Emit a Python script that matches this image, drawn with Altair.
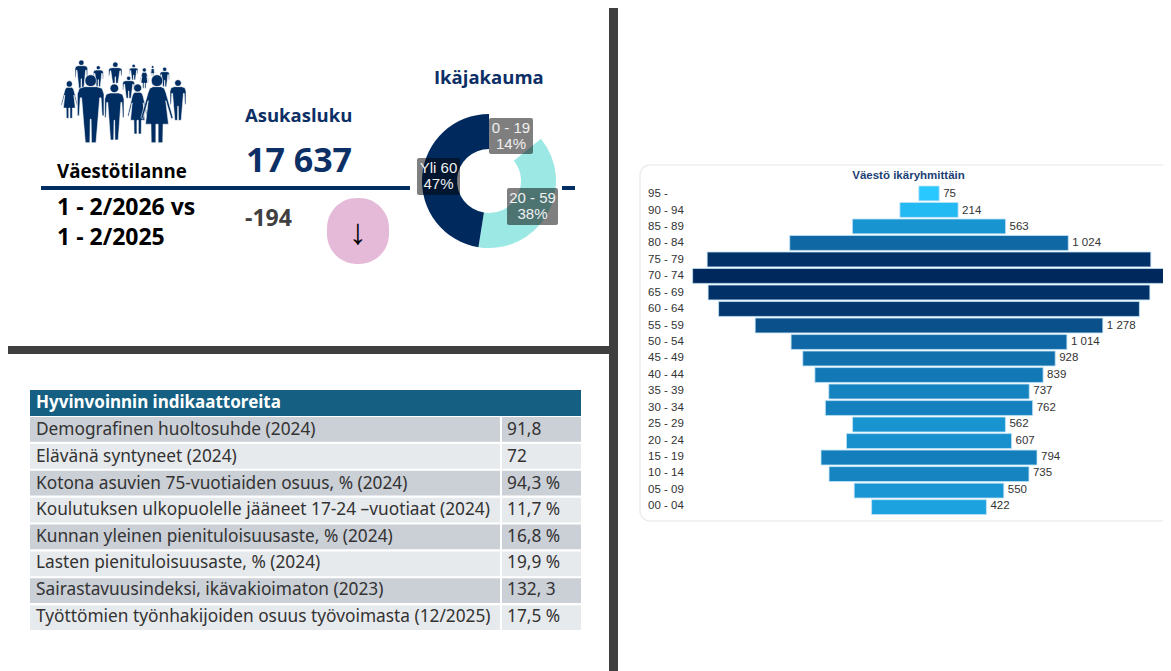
import altair as alt
import pandas as pd

ages = ["95 -", "90 - 94", "85 - 89", "80 - 84", "75 - 79", "70 - 74", "65 - 69", "60 - 64", "55 - 59", "50 - 54",
        "45 - 49", "40 - 44", "35 - 39", "30 - 34", "25 - 29", "20 - 24", "15 - 19", "10 - 14", "05 - 09", "00 - 04"]
population = [75, 214, 563, 1024, 1631, 1738, 1624, 1547, 1278, 1014, 928, 839, 737, 762, 562, 607, 794, 735, 550, 422]
value_labels = ["75", "214", "563", "1 024", "", "", "", "", "1 278", "1 014", "928", "839", "737", "762", "562", "607", "794", "735", "550", "422"]

donut_groups = ["0 - 19", "20 - 59", "Yli 60"]
donut_shares = [14, 38, 47]

indicators = ["Demografinen huoltosuhde (2024)", "Elävänä syntyneet (2024)",
              "Kotona asuvien 75-vuotiaiden osuus, % (2024)",
              "Koulutuksen ulkopuolelle jääneet 17-24  –vuotiaat (2024)",
              "Kunnan yleinen pienituloisuusaste, % (2024)", "Lasten pienituloisuusaste, % (2024)",
              "Sairastavuusindeksi, ikävakioimaton (2023)", "Työttömien työnhakijoiden osuus työvoimasta (12/2025)"]
indicator_values = ["91,8", "72", "94,3 %", "11,7 %", "16,8 %", "19,9 %", "132, 3", "17,5 %"]

NAVY = "#002d62"
OPEN = "Open Sans"
NOTO = "Noto Sans"
ARIAL = "Liberation Sans"


def X(p):
    return p - 8


def Y(p):
    return p - 8


def txt(s, x, y, size, color="#000000", weight="normal", font=OPEN, align="left"):
    return alt.Chart(pd.DataFrame({"t": [s]})).mark_text(
        fontSize=size, color=color, fontWeight=weight, font=font, align=align, baseline="middle"
    ).encode(x=alt.value(X(x)), y=alt.value(Y(y)), text="t:N")


def box(x0, x1, y0, y1, fill, **kw):
    return alt.Chart(pd.DataFrame({"a": [0]})).mark_rect(fill=fill, **kw).encode(
        x=alt.value(X(x0)), x2=alt.value(X(x1)), y=alt.value(Y(y0)), y2=alt.value(Y(y1)))


# ---- people pictogram: one path per figure, mapped to the symbol's unit box
ICX, ICY, ICR = 123.0, 100.0, 70.0


def mp(xz, yz):
    return ((xz / 3 + 50 - ICX) / ICR, (yz / 3 + 55 - ICY) / ICR)


def person(kind, cx, hy, hr, hw, bottom):
    top = hy + hr + 1
    h = bottom - top
    if kind == "m":
        half = [(0.45, 0), (0.85, 0.03), (1, 0.13), (1, 0.52), (0.86, 0.52), (0.78, 0.2), (0.68, 0.2),
                (0.56, 0.55), (0.4, 1), (0.06, 1), (0.03, 0.58)]
    else:
        half = [(0.25, 0), (0.45, 0.03), (0.55, 0.1), (1, 0.55), (0.9, 0.58), (0.55, 0.25), (0.72, 0.67),
                (0.38, 0.67), (0.36, 1), (0.07, 1), (0.07, 0.67)]
    pts = [(cx + hw * a, top + h * b) for a, b in half] + [(cx - hw * a, top + h * b) for a, b in reversed(half)]
    d = "M" + " L".join("%.4f,%.4f" % mp(*p) for p in pts) + " Z "
    hx, hyy = mp(cx, hy)
    r = hr / 3 / ICR
    d += "M%.4f,%.4f A%.4f,%.4f 0 1,0 %.4f,%.4f A%.4f,%.4f 0 1,0 %.4f,%.4f Z" % (
        hx - r, hyy, r, r, hx + r, hyy, r, r, hx - r, hyy)
    return d


figures = [("m", 94, 23, 8, 19, 100), ("m", 145, 38, 6, 15, 95), ("m", 196, 29, 8, 20, 85),
           ("m", 251, 33, 5, 13, 75), ("f", 283, 45, 6, 14, 100), ("f", 308, 36, 4, 8, 62),
           ("m", 344, 43, 6, 14, 95), ("m", 236, 70, 6, 18, 130), ("f", 58, 87, 9, 25, 190),
           ("m", 384, 84, 10, 24, 196), ("m", 193, 100, 13, 29, 255), ("m", 122, 77, 17, 40, 263),
           ("f", 263, 99, 12, 30, 237), ("f", 321, 77, 17, 48, 263)]
people_df = pd.DataFrame({"p": [person(*f) for f in figures]})
icon = alt.Chart(people_df).mark_point(filled=True, fill=NAVY, opacity=1, stroke="#ffffff", strokeWidth=0.6).encode(
    x=alt.value(X(ICX)), y=alt.value(Y(ICY)),
    shape=alt.Shape("p:N", scale=None, legend=None),
    size=alt.value((2 * ICR) ** 2))

# ---- frames
layers = [
    box(609, 618, 8, 680, "#3f3f3f"),
    box(8, 610, 346, 354, "#3f3f3f"),
    icon,
    txt("Väestötilanne", 57, 172, 18.7, "#000000", "bold"),
    txt("1 - 2/2026 vs", 57, 208, 23, "#000000", "bold"),
    txt("1 - 2/2025", 57, 238, 23, "#000000", "bold"),
    txt("Asukasluku", 245, 116, 18.5, "#0c2f66", "bold"),
    txt("17 637", 246, 161.5, 34, "#0c2f66", "bold"),
    txt("-194", 245, 219, 23, "#404040", "bold"),
    txt("Ikäjakauma", 434, 78, 18.5, "#0c2f66", "bold"),
    box(41, 410, 186, 190, NAVY),
    box(562, 575, 186, 190, NAVY),
    box(327, 389, 198, 264, "#e5b9d8", cornerRadius=30),
    txt("↓", 358, 233, 36, "#000000", "normal", ARIAL, "center"),
]

# ---- donut
donut_df = pd.DataFrame({"g": donut_groups, "v": donut_shares, "o": [0, 1, 2]})
layers.append(alt.Chart(donut_df).mark_arc(innerRadius=32, outerRadius=67).encode(
    x=alt.value(X(489)), y=alt.value(Y(181)),
    theta=alt.Theta("v:Q", stack=True, scale=alt.Scale(range=[0, 6.2832])),
    order=alt.Order("o:Q"),
    color=alt.Color("g:N", scale=alt.Scale(domain=donut_groups, range=["#ffffff", "#9ce8e4", "#002a5e"]), legend=None)))
for i, (g, v, (x0, x1, y0, y1)) in enumerate(zip(donut_groups, donut_shares,
                                                 [(489, 533, 118, 154), (507, 558, 188, 225), (417, 460, 158, 195)])):
    layers.append(box(x0, x1, y0, y1, "#000000", opacity=0.5, cornerRadius=2))
    cx = (x0 + x1) / 2
    layers.append(txt(g, cx, y0 + 9.5, 15, "#f0f0f0", "normal", ARIAL, "center"))
    layers.append(txt(f"{v}%", cx, y0 + 25.5, 15, "#f0f0f0", "normal", ARIAL, "center"))

# ---- table
layers.append(box(30, 581, 390, 416, "#156082"))
layers.append(txt("Hyvinvoinnin indikaattoreita", 36, 403, 17, "#ffffff", "bold", NOTO))
table_df = pd.DataFrame({"name": indicators, "val": indicator_values, "odd": [i % 2 for i in range(len(indicators))]})
tab_y = alt.Y("name:N", sort=indicators, axis=None,
              scale=alt.Scale(domain=indicators, range=[Y(417), Y(630)], paddingInner=0.08, paddingOuter=0))
tab_color = alt.Color("odd:N", scale=alt.Scale(domain=[0, 1], range=["#cbcfd6", "#e7eaed"]), legend=None)
layers.append(alt.Chart(table_df).mark_rect().encode(x=alt.value(X(30)), x2=alt.value(X(500)), y=tab_y, color=tab_color))
layers.append(alt.Chart(table_df).mark_rect().encode(x=alt.value(X(502)), x2=alt.value(X(581)), y=tab_y, color=tab_color))
layers.append(alt.Chart(table_df).mark_text(align="left", baseline="middle", font=NOTO, fontSize=17.3, color="#333333").encode(
    x=alt.value(X(36)), y=tab_y, text="name:N"))
layers.append(alt.Chart(table_df).mark_text(align="left", baseline="middle", font=NOTO, fontSize=17.3, color="#333333").encode(
    x=alt.value(X(507)), y=tab_y, text="val:N"))

# ---- pyramid
layers.append(box(640, 1200, 165, 521, "#ffffff", stroke="#eeeeee", strokeWidth=1.5, cornerRadius=10))
layers.append(txt("Väestö ikäryhmittäin", 908.5, 176, 11.5, "#1c3f75", "bold", ARIAL, "center"))
pyr = pd.DataFrame({"age": ages, "pop": population, "lab": value_labels})
pyr["left"] = -pyr["pop"] / 2
pyr["right"] = pyr["pop"] / 2
PPU = 0.272
CX = 929.0
x_pyr = alt.Scale(domain=[-1750, 1750], range=[X(CX - 1750 * PPU), X(CX + 1750 * PPU)])
y_pyr = alt.Scale(domain=ages, range=[Y(186), Y(514.5)], paddingInner=0.1, paddingOuter=0)
y_enc = alt.Y("age:N", sort=ages, axis=None, scale=y_pyr)
layers.append(alt.Chart(pyr).mark_bar(stroke="#bfe2f5", strokeWidth=0.8).encode(
    x=alt.X("left:Q", axis=None, scale=x_pyr), x2="right:Q", y=y_enc,
    color=alt.Color("pop:Q", scale=alt.Scale(domain=[75, 1738], range=["#29c8ff", "#00285c"]), legend=None)))
layers.append(alt.Chart(pyr).mark_text(align="left", baseline="middle", dx=4, font=ARIAL, fontSize=11.5, color="#333333").encode(
    x=alt.X("right:Q", axis=None, scale=x_pyr), y=y_enc, text="lab:N"))
layers.append(alt.Chart(pyr).mark_text(align="left", baseline="middle", font=ARIAL, fontSize=11.5, color="#333333").encode(
    x=alt.value(X(648)), y=y_enc, text="age:N"))

chart = alt.layer(*layers).resolve_scale(x="independent", y="independent", color="independent", theta="independent").properties(
    width=1155, height=663, padding=0, autosize=alt.AutoSizeParams(type="none"), background="#ffffff"
).configure_view(stroke=None)

chart.save("out.html", embed_options={"renderer": "svg", "actions": False})
